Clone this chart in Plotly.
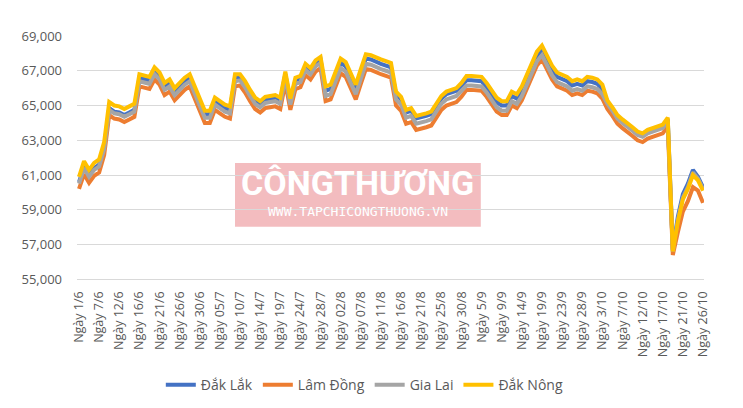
import plotly.graph_objects as go

tick_labels = ["Ngày 1/6", "Ngày 7/6", "Ngày 12/6", "Ngày 16/6", "Ngày 21/6", "Ngày 26/6",
               "Ngày 30/6", "Ngày 05/7", "Ngày 10/7", "Ngày 14/7", "Ngày 19/7", "Ngày 24/7",
               "Ngày 28/7", "Ngày 02/8", "Ngày 07/8", "Ngày 11/8", "Ngày 16/8", "Ngày 21/8",
               "Ngày 25/8", "Ngày 30/8", "Ngày 5/9", "Ngày 9/9", "Ngày 14/9", "Ngày 19/9",
               "Ngày 23/9", "Ngày 28/9", "Ngày 3/10", "Ngày 7/10", "Ngày 12/10", "Ngày 17/10",
               "Ngày 21/10", "Ngày 26/10"]

dak_nong = [60900, 61800, 61300, 61700, 61900, 62900, 65200, 65000, 64950, 64800,
            64950, 65100, 66800, 66700, 66650, 67200, 66900, 66300, 66500, 66000,
            66300, 66600, 66800, 66100, 65400, 64700, 64700, 65450, 65250, 65050,
            64950, 66800, 66800, 66400, 65900, 65450, 65250, 65500, 65550, 65600,
            65450, 66950, 65400, 66600, 66700, 67400, 67150, 67600, 67800, 66100,
            66200, 67000, 67700, 67500, 66900, 66200, 67100, 67950, 67900, 67750,
            67650, 67550, 67450, 65800, 65500, 64750, 64850, 64400, 64450, 64550,
            64650, 65100, 65550, 65800, 65900, 66000, 66300, 66700, 66700, 66700,
            66650, 66300, 65900, 65450, 65250, 65250, 65800, 65650, 66100, 66800,
            67500, 68100, 68450, 67850, 67300, 66900, 66750, 66650, 66400, 66500,
            66400, 66650, 66600, 66500, 66200, 65300, 64900, 64450, 64200, 64000,
            63750, 63500, 63400, 63600, 63700, 63750, 63900, 64300, 56600, 58300,
            59600, 60200, 61000, 60700, 60100]

dak_lak = [60600, 61500, 61000, 61400, 61600, 62600, 64850, 64650, 64600, 64450,
           64600, 64750, 66600, 66500, 66450, 67000, 66700, 66100, 66300, 65800,
           66100, 66400, 66600, 65900, 65200, 64500, 64500, 65250, 65050, 64850,
           64750, 66600, 66650, 66250, 65750, 65300, 65100, 65350, 65400, 65450,
           65300, 66800, 65250, 66450, 66550, 67250, 67000, 67450, 67650, 65850,
           65950, 66750, 67450, 67250, 66650, 65950, 66850, 67700, 67650, 67500,
           67400, 67300, 67200, 65650, 65350, 64600, 64700, 64250, 64300, 64400,
           64500, 64950, 65400, 65650, 65750, 65850, 66150, 66450, 66450, 66450,
           66400, 66050, 65650, 65200, 65000, 65000, 65550, 65400, 65850, 66550,
           67250, 67850, 68200, 67600, 67050, 66650, 66500, 66400, 66150, 66250,
           66150, 66400, 66350, 66250, 65950, 65200, 64800, 64350, 64100, 63900,
           63650, 63400, 63300, 63500, 63600, 63650, 63800, 64200, 56700, 58600,
           59900, 60500, 61300, 60900, 60300]

gia_lai = [60500, 61400, 60900, 61300, 61500, 62500, 64750, 64550, 64500, 64350,
           64500, 64650, 66400, 66300, 66250, 66800, 66500, 65900, 66100, 65600,
           65900, 66200, 66400, 65700, 65000, 64300, 64300, 65050, 64850, 64650,
           64550, 66400, 66450, 66050, 65550, 65100, 64900, 65150, 65200, 65250,
           65100, 66600, 65050, 66250, 66350, 67050, 66800, 67250, 67450, 65550,
           65650, 66450, 67150, 66950, 66350, 65650, 66550, 67400, 67350, 67200,
           67100, 67000, 66900, 65350, 65050, 64300, 64400, 63950, 64000, 64100,
           64200, 64650, 65100, 65350, 65450, 65550, 65850, 66150, 66150, 66150,
           66100, 65750, 65350, 64900, 64700, 64700, 65250, 65100, 65550, 66250,
           66950, 67550, 67900, 67300, 66750, 66350, 66200, 66100, 65850, 65950,
           65850, 66100, 66050, 65950, 65650, 65100, 64700, 64250, 64000, 63800,
           63550, 63300, 63200, 63400, 63500, 63550, 63700, 64100, 56600, 58400,
           59700, 60300, 61150, 60800, 60200]

lam_dong = [60200, 61050, 60550, 60950, 61150, 62150, 64450, 64250, 64200, 64050,
            64200, 64350, 66100, 66000, 65950, 66500, 66200, 65600, 65800, 65300,
            65600, 65900, 66100, 65400, 64700, 64000, 64000, 64750, 64550, 64350,
            64250, 66100, 66150, 65750, 65250, 64800, 64600, 64850, 64900, 64950,
            64800, 66300, 64750, 65950, 66050, 66750, 66500, 66950, 67150, 65250,
            65350, 66150, 66850, 66650, 66050, 65350, 66250, 67100, 67050, 66900,
            66800, 66700, 66600, 65000, 64700, 63950, 64050, 63600, 63650, 63750,
            63850, 64300, 64750, 65000, 65100, 65200, 65500, 65900, 65900, 65900,
            65850, 65500, 65100, 64650, 64450, 64450, 65000, 64850, 65300, 66000,
            66700, 67300, 67650, 67050, 66500, 66100, 65950, 65850, 65600, 65700,
            65600, 65850, 65800, 65700, 65400, 64800, 64400, 63950, 63700, 63500,
            63250, 63000, 62900, 63100, 63200, 63250, 63400, 63800, 56400, 57700,
            58900, 59500, 60300, 60100, 59400]

y_ticks = [55000, 57000, 59000, 61000, 63000, 65000, 67000, 69000]

series = [("Đắk Lắk", dak_lak, "#4472C4"),
          ("Lâm Đồng", lam_dong, "#ED7D31"),
          ("Gia Lai", gia_lai, "#A5A5A5"),
          ("Đắk Nông", dak_nong, "#FFC000")]

n = len(dak_nong)
xs = list(range(n))

fig = go.Figure()
for name, vals, col in series:
    fig.add_trace(go.Scatter(x=xs, y=vals, mode="lines", name=name,
                             line=dict(color=col, width=4)))

# watermark
fig.add_shape(type="rect", xref="paper", yref="paper", x0=0.252, x1=0.644,
              y0=0.216, y1=0.478, fillcolor="#f3bcbf", line=dict(width=0), layer="below")
fig.add_annotation(text="<b>CÔNGTHƯƠNG</b>", xref="paper", yref="paper",
                   x=0.448, y=0.395, showarrow=False,
                   font=dict(family="Roboto", size=34, color="#ffffff"))
fig.add_annotation(text="WWW.TAPCHICONGTHUONG.VN", xref="paper", yref="paper",
                   x=0.448, y=0.240, showarrow=False,
                   font=dict(family="DejaVu Sans Mono", size=13, color="#ffffff"))

fig.update_layout(
    width=743, height=408,
    margin=dict(l=77, r=39, t=36, b=127),
    paper_bgcolor="white", plot_bgcolor="white",
    font=dict(family="Open Sans", color="#595959", size=13),
    showlegend=True,
    legend=dict(orientation="h", xref="container", yref="container",
                x=0.491, xanchor="center", y=0.056, yanchor="middle",
                font=dict(size=14, color="#595959"), itemwidth=30,
                traceorder="normal"),
    xaxis=dict(range=[-0.4, n - 1 + 0.2], tickmode="array",
               tickvals=list(range(0, n, 4)), ticktext=tick_labels,
               tickangle=-90, showgrid=False, zeroline=False,
               showline=True, linecolor="#d9d9d9", ticks="",
               ticklabelstandoff=6,
               tickfont=dict(size=12.5, color="#595959")),
    yaxis=dict(range=[55000, 69000], tickmode="array", tickvals=y_ticks,
               tickformat=",d", showgrid=True, gridcolor="#d9d9d9", gridwidth=1,
               zeroline=False, showline=False, ticks="", ticklabelstandoff=14,
               tickfont=dict(size=13, color="#595959")),
)

fig.write_html("out.html")
